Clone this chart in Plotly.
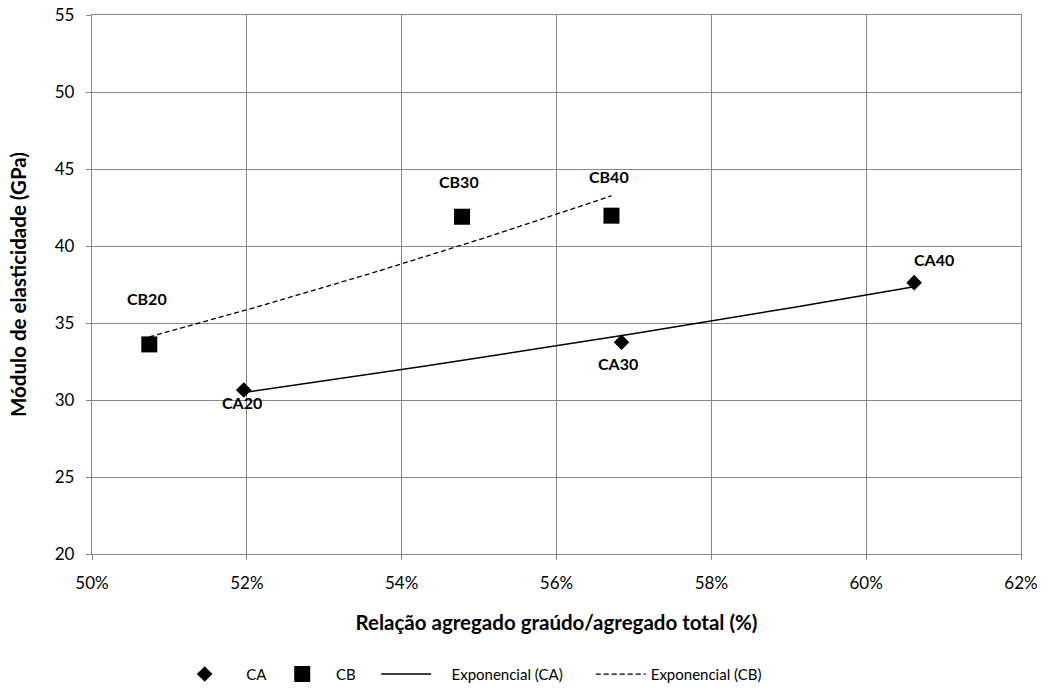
import numpy as np
import plotly.graph_objects as go

# Coarse / total aggregate ratio (fraction) and elastic modulus (GPa)
ca_labels = ["CA20", "CA30", "CA40"]
ca_ratio = [0.5196, 0.5684, 0.6062]
ca_modulus = [30.65, 33.75, 37.62]

cb_labels = ["CB20", "CB30", "CB40"]
cb_ratio = [0.5074, 0.5478, 0.5671]
cb_modulus = [33.61, 41.90, 41.97]

x_ticks = [0.50, 0.52, 0.54, 0.56, 0.58, 0.60, 0.62]
y_ticks = [20, 25, 30, 35, 40, 45, 50, 55]

FONT = "Lato"
GRID = "#878787"
NB = "\u00a0"


def exp_fit(x, y, n=60):
    """Least-squares exponential trend y = a*exp(b*x) over the data's x-span."""
    x = np.asarray(x, float)
    b, ln_a = np.polyfit(x, np.log(y), 1)
    xs = np.linspace(x.min(), x.max(), n)
    return xs, np.exp(ln_a) * np.exp(b * xs)


fig = go.Figure()

fig.add_trace(go.Scatter(
    x=ca_ratio, y=ca_modulus, mode="markers", name=NB * 3 + "CA",
    marker=dict(symbol="diamond", size=12, color="black"),
))
fig.add_trace(go.Scatter(
    x=cb_ratio, y=cb_modulus, mode="markers", name=NB + "CB" + NB * 4,
    marker=dict(symbol="square", size=16, color="black"),
))

xa, ya = exp_fit(ca_ratio, ca_modulus)
fig.add_trace(go.Scatter(
    x=xa, y=ya, mode="lines", name=NB * 4 + "Exponencial (CA)" + NB * 6,
    line=dict(color="black", width=1.5),
))
xb, yb = exp_fit(cb_ratio, cb_modulus)
fig.add_trace(go.Scatter(
    x=xb, y=yb, mode="lines", name="Exponencial (CB)",
    line=dict(color="black", width=1.3, dash="5px,3px"),
))

# Point labels with their offsets (pixels)
ca_shift = [(-2, -13), (-4, -21), (20, 23)]
cb_shift = [(-2, 46), (-3, 35), (-2, 39)]
for labels, xs, ys, shifts in ((ca_labels, ca_ratio, ca_modulus, ca_shift),
                               (cb_labels, cb_ratio, cb_modulus, cb_shift)):
    for lab, x, y, (dx, dy) in zip(labels, xs, ys, shifts):
        fig.add_annotation(
            x=x, y=y, text=f"<b>{lab}</b>", showarrow=False,
            xshift=dx, yshift=dy,
            font=dict(family=FONT, size=16, color="black"),
        )

axis_common = dict(
    showgrid=True, gridcolor=GRID, gridwidth=1.3,
    showline=True, linecolor=GRID, linewidth=1.3, mirror=True,
    ticks="outside", ticklen=5, tickcolor=GRID, tickwidth=1.3,
    zeroline=False, automargin=False,
    tickfont=dict(family=FONT, size=17, color="black"),
)

fig.update_xaxes(
    range=[0.50, 0.62], tickvals=x_ticks, tickformat=".0%",
    ticklabelstandoff=8,
    title=dict(text="<b>Relação agregado graúdo/agregado total (%)</b>",
               font=dict(family=FONT, size=20.5, color="black"), standoff=24),
    **axis_common,
)
fig.update_yaxes(
    range=[20, 55], tickvals=y_ticks,
    ticklabelstandoff=8,
    title=dict(text="<b>Módulo de elasticidade (GPa)</b>",
               font=dict(family=FONT, size=20.5, color="black"), standoff=22),
    **axis_common,
)

fig.update_layout(
    width=1048, height=693,
    margin=dict(l=92, r=27, t=15, b=139),
    paper_bgcolor="white", plot_bgcolor="white",
    font=dict(family=FONT, size=15, color="black"),
    showlegend=True,
    legend=dict(
        orientation="h", x=0.089, xanchor="left",
        yref="container", y=0.027, yanchor="middle",
        font=dict(family=FONT, size=15, color="black"),
        itemwidth=50, tracegroupgap=0, bgcolor="rgba(0,0,0,0)",
    ),
)

fig.write_html("out.html")
